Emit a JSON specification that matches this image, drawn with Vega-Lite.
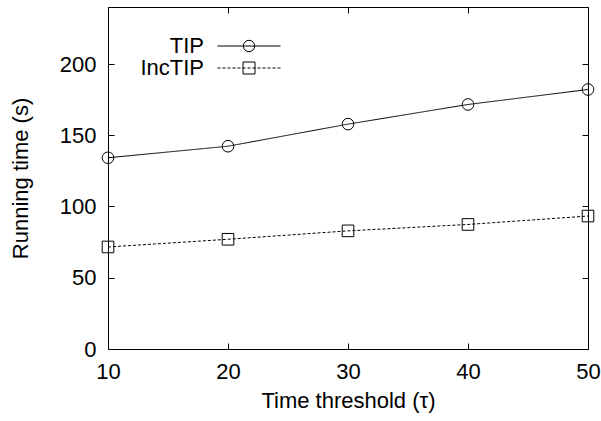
{
  "$schema": "https://vega.github.io/schema/vega-lite/v6.json",
  "width": 480,
  "height": 342,
  "autosize": "none",
  "padding": {"left": 108, "top": 7, "right": 13, "bottom": 72},
  "background": "white",
  "data": {
    "values": [
      {"tau": 10, "series": "TIP", "time": 134.2},
      {"tau": 20, "series": "TIP", "time": 142.3},
      {"tau": 30, "series": "TIP", "time": 157.8},
      {"tau": 40, "series": "TIP", "time": 171.6},
      {"tau": 50, "series": "TIP", "time": 182.1},
      {"tau": 10, "series": "IncTIP", "time": 71.6},
      {"tau": 20, "series": "IncTIP", "time": 77.0},
      {"tau": 30, "series": "IncTIP", "time": 82.9},
      {"tau": 40, "series": "IncTIP", "time": 87.4},
      {"tau": 50, "series": "IncTIP", "time": 93.3}
    ]
  },
  "layer": [
    {
      "mark": {"type": "line", "color": "black", "strokeWidth": 1},
      "encoding": {
        "x": {"field": "tau", "type": "quantitative",
              "scale": {"domain": [10, 50], "nice": false, "zero": false},
              "axis": {"orient": "bottom", "title": "Time threshold (τ)", "values": [10, 20, 30, 40, 50], "titlePadding": 8}},
        "y": {"field": "time", "type": "quantitative",
              "scale": {"domain": [0, 240], "nice": false, "zero": true},
              "axis": {"orient": "left", "title": "Running time (s)", "values": [0, 50, 100, 150, 200], "titlePadding": 27}},
        "detail": {"field": "series"},
        "strokeDash": {"field": "series", "type": "nominal",
                       "scale": {"domain": ["TIP", "IncTIP"], "range": [[1, 0], [3, 2]]},
                       "legend": null}
      }
    },
    {
      "mark": {"type": "point", "filled": false, "color": "black", "size": 135, "strokeWidth": 1, "opacity": 1},
      "encoding": {
        "x": {"field": "tau", "type": "quantitative", "axis": null},
        "y": {"field": "time", "type": "quantitative", "axis": null},
        "shape": {"field": "series", "type": "nominal",
                  "scale": {"domain": ["TIP", "IncTIP"], "range": ["circle", "square"]},
                  "legend": null}
      }
    },
    {
      "transform": [{"filter": "datum.tau < 0"}],
      "mark": {"type": "point", "filled": false, "color": "black", "strokeWidth": 1, "opacity": 1},
      "encoding": {
        "x": {"field": "tau", "type": "quantitative", "axis": null},
        "y": {"field": "time", "type": "quantitative", "axis": null},
        "shape": {"field": "series", "type": "nominal",
                  "scale": {"domain": ["TIP", "IncTIP"],
                            "range": [
                              "M-5.25,0H5.25M0.95,0A0.95,0.95 0 1,1 -0.95,0A0.95,0.95 0 1,1 0.95,0",
                              "M-5.25,0H-4.75M-4.417,0H-3.917M-3.583,0H-3.083M-2.75,0H-2.25M-1.917,0H-1.417M-1.083,0H-0.583M-0.25,0H0.25M0.583,0H1.083M1.417,0H1.917M2.25,0H2.75M3.083,0H3.583M3.917,0H4.417M4.75,0H5.25M-1,-1H1V1H-1Z"
                            ]},
                  "legend": {
                    "title": null,
                    "orient": "none",
                    "legendX": 130,
                    "legendY": 28,
                    "padding": 0,
                    "symbolSize": 144,
                    "symbolStrokeWidth": 1,
                    "symbolStrokeColor": "black",
                    "symbolFillColor": "transparent",
                    "symbolOpacity": 1,
                    "labelAlign": "right",
                    "labelOffset": -56,
                    "labelFont": "Liberation Sans",
                    "labelFontSize": 22,
                    "labelColor": "black",
                    "rowPadding": 0
                  }}
      }
    },
    {
      "mark": {"type": "line", "strokeOpacity": 0},
      "encoding": {
        "x": {"field": "tau", "type": "quantitative",
              "axis": {"orient": "top", "labels": false, "title": null, "values": [10, 20, 30, 40, 50]}},
        "y": {"field": "time", "type": "quantitative",
              "axis": {"orient": "right", "labels": false, "title": null, "values": [0, 50, 100, 150, 200]}},
        "detail": {"field": "series"}
      }
    }
  ],
  "resolve": {"axis": {"x": "independent", "y": "independent"}, "scale": {"shape": "independent"}},
  "config": {
    "view": {"stroke": "black", "strokeWidth": 1},
    "axis": {
      "domain": false,
      "grid": false,
      "ticks": true,
      "tickSize": -6,
      "tickColor": "black",
      "tickWidth": 1,
      "labelPadding": 18,
      "labelFont": "Liberation Sans",
      "labelFontSize": 22,
      "labelColor": "black",
      "labelFlush": false,
      "labelOverlap": false,
      "titleFont": "Liberation Sans",
      "titleFontSize": 22,
      "titleFontWeight": "normal",
      "titleColor": "black"
    }
  }
}
